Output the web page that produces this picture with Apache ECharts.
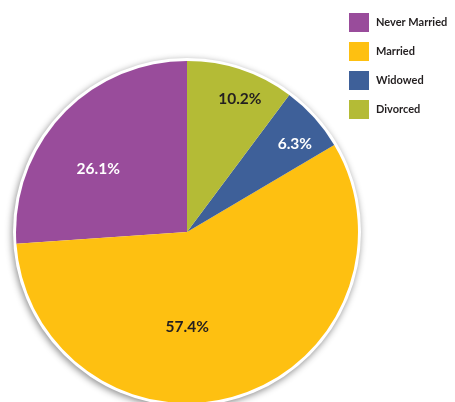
<!DOCTYPE html>
<html><head><meta charset="utf-8">
<script src="https://cdn.jsdelivr.net/npm/echarts@6/dist/echarts.min.js"></script>
<style>html,body{margin:0;padding:0;background:#fff}#c{width:455px;height:402px}</style>
</head><body><div id="c"></div>
<script>
const categories = ['Never Married', 'Married', 'Widowed', 'Divorced'];
const values = [26.1, 57.4, 6.3, 10.2];

const colors = ['#994c9b', '#fec011', '#3e6099', '#b4bb36'];
const labelColors = ['#ffffff', '#231f20', '#ffffff', '#231f20'];
const labelOffsets = [[-24, -3], [-26, 10], [42, -29], [25, -49]];

const chart = echarts.init(document.getElementById('c'), null, {renderer: 'canvas'});
chart.setOption({
  animation: false,
  legend: {
    orient: 'vertical', left: 349, top: 13, padding: 0,
    itemWidth: 20, itemHeight: 19, itemGap: 10,
    icon: 'rect',
    data: categories,
    textStyle: {fontFamily: 'Lato', fontWeight: 'bold', fontSize: 11, color: '#231f20', padding: [0, 0, 0, 2]}
  },
  series: [
    {
      type: 'pie', silent: true, center: [187, 232], radius: 174,
      label: {show: false}, labelLine: {show: false},
      data: [{value: 1, name: '', itemStyle: {color: '#ffffff', shadowBlur: 7, shadowOffsetX: -1, shadowOffsetY: 2, shadowColor: 'rgba(0,0,0,0.45)'}}],
      z: 1
    },
    {
      type: 'pie', center: [187, 232], radius: 171,
      startAngle: 90, clockwise: false,
      z: 2,
      label: {
        show: true, position: 'inside',
        formatter: p => p.value.toFixed(1) + '%',
        fontFamily: 'Lato', fontWeight: 'bold', fontSize: 15.5
      },
      labelLine: {show: false},
      data: categories.map((c, i) => ({
        name: c, value: values[i],
        itemStyle: {color: colors[i]},
        label: {color: labelColors[i], offset: labelOffsets[i]}
      }))
    }
  ]
});
</script></body></html>
